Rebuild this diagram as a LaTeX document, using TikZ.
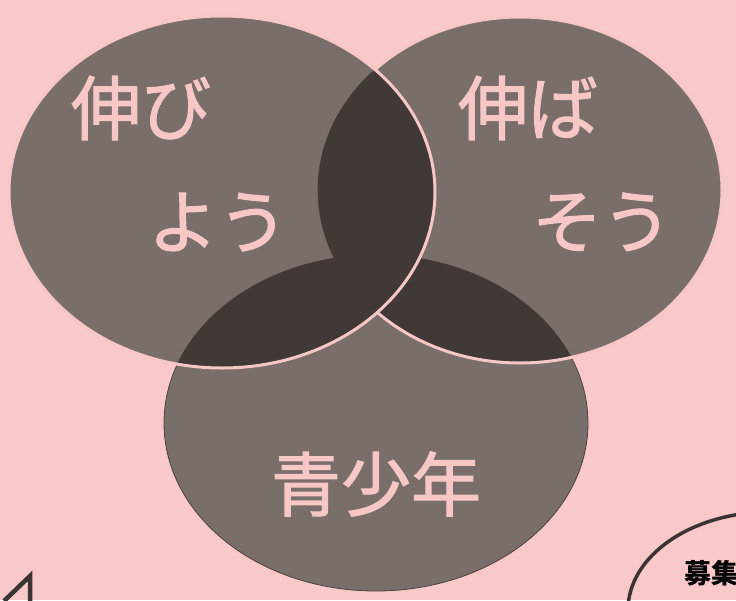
\documentclass[tikz,border=0pt]{standalone}
\usepackage{fontspec}
\newfontfamily\cjk{Noto Sans CJK JP}
\newfontfamily\cjkm[FakeBold=1.6]{Noto Sans CJK JP}
\definecolor{bgpink}{HTML}{F8C9C8}
\definecolor{ellgray}{HTML}{7A6E6B}
\definecolor{ovdark}{HTML}{403936}
\definecolor{txtpink}{HTML}{F6C7C5}
\definecolor{edgegray}{HTML}{4A4240}
\definecolor{inkgray}{HTML}{3A3533}
\tikzset{
  lbl/.style={text=txtpink, font=\cjkm\fontsize{70}{70}\selectfont, inner sep=0pt, anchor=center},
  pinkline/.style={draw=txtpink, line width=3pt},
  inkline/.style={draw=inkgray, line width=3.5pt}
}
\def\Lell{(222,192) ellipse [x radius=213pt, y radius=176pt]}
\def\Rell{(520,190) ellipse [x radius=202pt, y radius=173pt]}
\def\Bell{(376,423) ellipse [x radius=212pt, y radius=168pt]}
\begin{document}
\begin{tikzpicture}[x=1pt,y=-1pt]
\useasboundingbox (0,0) rectangle (736,600);
\fill[bgpink] (0,0) rectangle (736,600);
\begin{scope}
\clip (0,0) rectangle (736,600);
% base ellipses
\fill[ellgray, draw=edgegray, line width=0.8pt] \Lell;
\fill[ellgray, draw=edgegray, line width=0.8pt] \Rell;
\fill[ellgray, draw=edgegray, line width=0.8pt] \Bell;
% pairwise overlaps
\begin{scope}\clip \Lell; \fill[ovdark] \Rell; \end{scope}
\begin{scope}\clip \Lell; \fill[ovdark] \Bell; \end{scope}
\begin{scope}\clip \Rell; \fill[ovdark] \Bell; \end{scope}
% pink outline of the right ellipse, outside the left ellipse
\begin{scope}[even odd rule]
\clip (-10,-10) rectangle (746,610) \Lell;
\draw[pinkline] \Rell;
\end{scope}
% pink outline of the left ellipse
\draw[pinkline] \Lell;
% bottom right rounded frame
\draw[inkline] (770,610) ellipse [x radius=142pt, y radius=98pt];
% bottom left stroke
\coordinate (s1) at (4,601);
\coordinate (s2) at (30,576);
\coordinate (s3) at (30,601);
\draw[draw=inkgray, line width=4.5pt, line join=miter] (s1) -- (s2) -- (s3);
\end{scope}
% labels
\node[lbl] (t1) at (141,108) {伸び};
\node[lbl] (t2) at (218,222) {よう};
\node[lbl] (t3) at (528,108) {伸ば};
\node[lbl] (t4) at (602,222) {そう};
\node[lbl] (t5) at (376,484) {青少年};
\node[text=black, font=\cjk\bfseries\fontsize{27}{27}\selectfont, inner sep=0pt, anchor=west] (t6) at (684,573) {募集};
\end{tikzpicture}
\end{document}
